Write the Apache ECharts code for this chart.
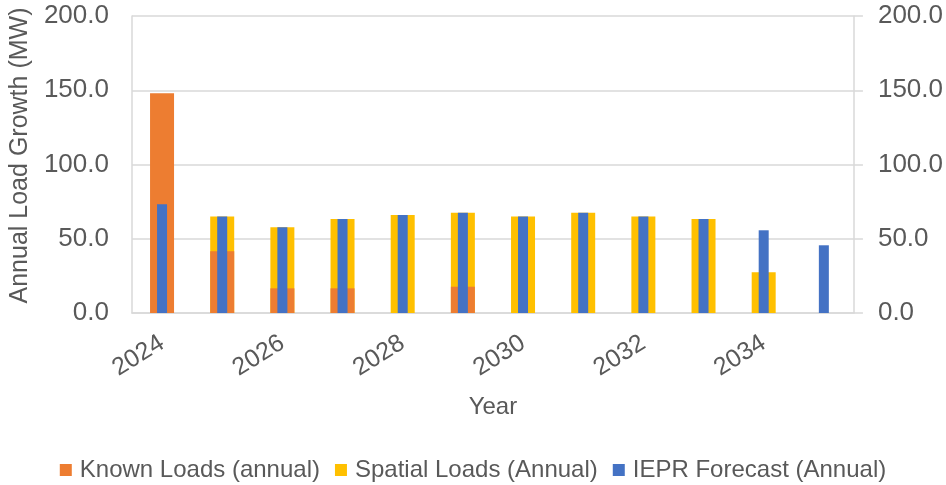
<!DOCTYPE html>
<html>
<head>
<meta charset="utf-8">
<script src="https://cdn.jsdelivr.net/npm/echarts@6/dist/echarts.min.js"></script>
<style>
html,body{margin:0;padding:0;background:#fff;}
#chart{width:946px;height:485px;}
</style>
</head>
<body>
<div id="chart"></div>
<script>
const years = ['2024','2025','2026','2027','2028','2029','2030','2031','2032','2033','2034','2035'];
const knownLoads = [148.0, 41.5, 16.6, 16.6, 0, 17.7, 0, 0, 0, 0, 0, 0];
const spatialLoads = [0, 64.9, 57.7, 63.3, 66.0, 67.5, 64.9, 67.5, 64.9, 63.3, 27.4, 0];
const ieprForecast = [73.2, 64.9, 57.7, 63.3, 66.0, 67.5, 64.9, 67.5, 64.9, 63.3, 55.7, 45.6];
const yTicks = [0, 50, 100, 150, 200];

const FONT = 'Liberation Sans, Arial, sans-serif';
const TXT = '#595959';
const GRID = '#D9D9D9';

const chart = echarts.init(document.getElementById('chart'), null, {renderer: 'canvas'});
chart.setOption({
  animation: false,
  backgroundColor: '#fff',
  textStyle: {fontFamily: FONT},
  grid: {left: 129, right: 92, top: 16, bottom: 172, containLabel: false},
  legend: {
    data: ['Known Loads (annual)', 'Spatial Loads (Annual)', 'IEPR Forecast (Annual)'],
    left: 'center', top: 453,
    itemWidth: 12, itemHeight: 12, itemGap: 15,
    icon: 'rect',
    textStyle: {color: TXT, fontSize: 24, fontFamily: FONT, padding: [0, 0, 0, 3]}
  },
  xAxis: [{
    type: 'category', data: years,
    name: 'Year', nameLocation: 'middle', nameGap: 82,
    nameTextStyle: {color: TXT, fontSize: 24, fontFamily: FONT},
    axisLine: {show: true, lineStyle: {color: GRID, width: 1.5}},
    axisTick: {show: false},
    axisLabel: {interval: 1, rotate: 32, margin: 28, color: TXT, fontSize: 25, fontFamily: FONT}
  }, {
    type: 'category', data: years, show: false
  }],
  yAxis: [{
    type: 'value', min: 0, max: 200, interval: 50,
    name: 'Annual Load Growth (MW)', nameLocation: 'middle', nameGap: 98, nameRotate: 90,
    nameTextStyle: {color: TXT, fontSize: 25, fontFamily: FONT, padding: [0, 0, 0, 18]},
    axisLine: {show: true, lineStyle: {color: GRID, width: 1.5}},
    axisTick: {show: false},
    splitLine: {lineStyle: {color: GRID, width: 1.5}},
    axisLabel: {margin: 23, color: TXT, fontSize: 26, fontFamily: FONT,
      formatter: v => yTicks.includes(v) ? v.toFixed(1) : ''}
  }, {
    type: 'value', min: 0, max: 200, interval: 50, position: 'right',
    axisLine: {show: true, lineStyle: {color: GRID, width: 1.5}},
    axisTick: {show: true, length: 9, inside: false, lineStyle: {color: GRID, width: 1.5}},
    splitLine: {show: false},
    axisLabel: {margin: 24, color: TXT, fontSize: 26, fontFamily: FONT,
      formatter: v => yTicks.includes(v) ? v.toFixed(1) : ''}
  }],
  series: [{
    name: 'Spatial Loads (Annual)', type: 'bar', xAxisIndex: 0, yAxisIndex: 0,
    data: spatialLoads, barWidth: 24, barGap: '-100%',
    itemStyle: {color: '#FFC000'}
  }, {
    name: 'Known Loads (annual)', type: 'bar', xAxisIndex: 0, yAxisIndex: 0,
    data: knownLoads, barWidth: 24, barGap: '-100%',
    itemStyle: {color: '#ED7D31'}
  }, {
    name: 'IEPR Forecast (Annual)', type: 'bar', xAxisIndex: 1, yAxisIndex: 1,
    data: ieprForecast, barWidth: 10,
    itemStyle: {color: '#4472C4'}
  }]
});
</script>
</body>
</html>
